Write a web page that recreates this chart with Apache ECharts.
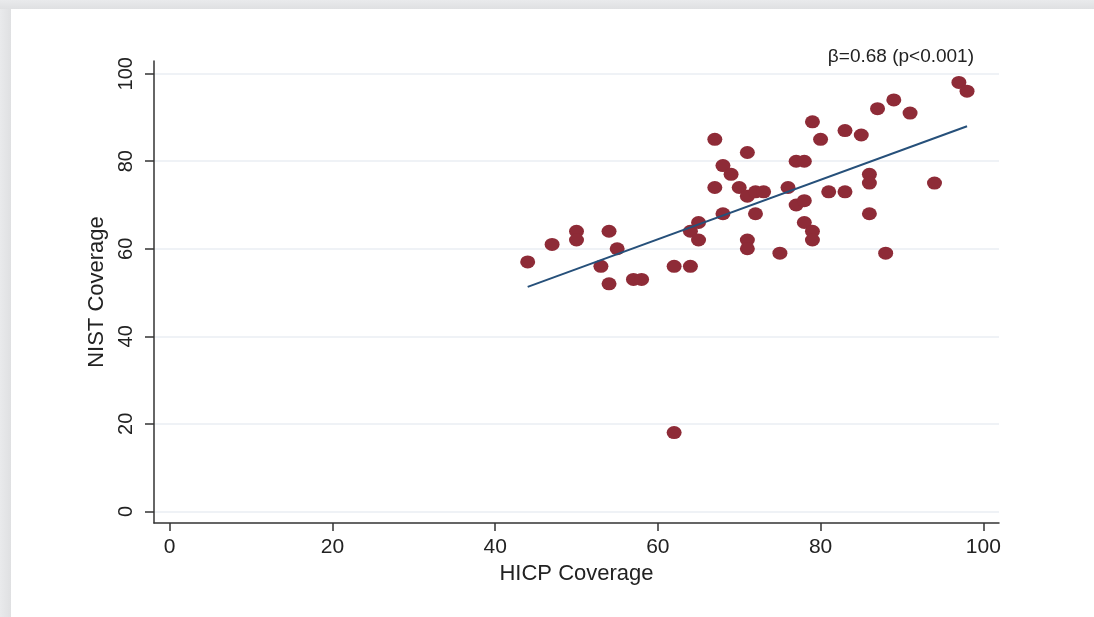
<!DOCTYPE html>
<html><head><meta charset="utf-8">
<script src="https://cdn.jsdelivr.net/npm/echarts@6/dist/echarts.min.js"></script>
<style>html,body{margin:0;padding:0;background:#fff}#c{width:1094px;height:617px}</style>
</head><body><div id="c"></div>
<script>
const hicp = [44,47,50,50,53,54,55,54,57,58,62,64,62,64,65,65,67,67,68,69,68,70,71,71,72,73,72,71,71,75,76,77,78,77,78,78,79,79,79,80,81,83,83,85,86,86,86,87,89,88,91,94,97,98];
const nist = [57,61,64,62,56,64,60,52,53,53,56,56,18,64,66,62,85,74,79,77,68,74,82,72,73,73,68,62,60,59,74,80,80,70,71,66,64,62,89,85,73,87,73,86,77,75,68,92,94,59,91,75,98,96];
const fitX = [44, 98];
const fitY = [51.3, 88.0];
const xTicks = [0,20,40,60,80,100];
const yTicks = [0,20,40,60,80,100];
const annotation = 'β=0.68 (p<0.001)';
const xName = 'HICP Coverage';
const yName = 'NIST Coverage';

const pts = hicp.map((x,i)=>[x, nist[i]]);
const fit = fitX.map((x,i)=>[x, fitY[i]]);
const FF = "'Liberation Sans', Arial, sans-serif";
const chart = echarts.init(document.getElementById('c'), null, {renderer:'canvas'});
chart.setOption({
  backgroundColor:'#fff',
  animation:false,
  textStyle:{fontFamily:FF},
  title:{text:annotation, right:115, top:42, textStyle:{fontFamily:FF, fontSize:19, fontWeight:'normal', color:'#222'}},
  graphic:[
    {type:'rect', left:0, top:0, shape:{width:1094, height:9}, style:{fill:new echarts.graphic.LinearGradient(0,0,0,1,[{offset:0,color:'#e9eaec'},{offset:1,color:'#dfe0e2'}])}, silent:true, z:-10},
    {type:'rect', left:0, top:9, shape:{width:11, height:608}, style:{fill:new echarts.graphic.LinearGradient(0,0,1,0,[{offset:0,color:'#e9eaec'},{offset:1,color:'#dfe0e2'}])}, silent:true, z:-10}
  ],
  grid:{left:154, right:95, top:61, bottom:94, containLabel:false},
  xAxis:{
    type:'value', min:-1.93, max:101.93,
    name:xName, nameLocation:'middle', nameGap:35,
    nameTextStyle:{fontFamily:FF, fontSize:22, color:'#222'},
    axisLine:{show:true, onZero:false, lineStyle:{color:'#333', width:1.5}},
    axisTick:{show:true, customValues:xTicks, length:8, lineStyle:{color:'#333', width:1.5}},
    axisLabel:{customValues:xTicks, fontFamily:FF, fontSize:21, color:'#222', margin:14},
    splitLine:{show:false}
  },
  yAxis:{
    type:'value', min:-2.65, max:102.9,
    name:yName, nameLocation:'middle', nameGap:42,
    nameTextStyle:{fontFamily:FF, fontSize:22, color:'#222'},
    axisLine:{show:true, onZero:false, lineStyle:{color:'#333', width:1.5}},
    axisTick:{show:true, customValues:yTicks, length:9, lineStyle:{color:'#333', width:1.5}},
    axisLabel:{customValues:yTicks, rotate:90, fontFamily:FF, fontSize:20, color:'#222', margin:18},
    splitLine:{show:true, lineStyle:{color:'#eaeef3', width:1.5}}
  },
  series:[
    {type:'scatter', data:pts, symbol:'circle', symbolSize:[15,13], itemStyle:{color:'#8e2b37', opacity:1}, z:2},
    {type:'line', data:fit, symbol:'none', lineStyle:{color:'#26507a', width:2}, z:3}
  ]
});
</script></body></html>
